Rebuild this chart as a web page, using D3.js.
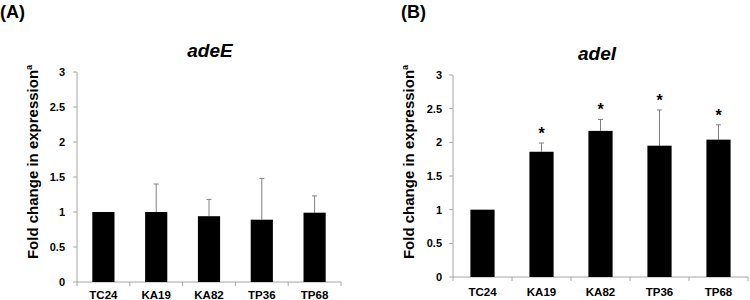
<!DOCTYPE html>
<html><head><meta charset="utf-8">
<script src="https://cdn.jsdelivr.net/npm/d3@7"></script>
<style>body{margin:0;background:#fff}svg{display:block;font-family:"Liberation Sans",Arial,sans-serif}</style>
</head><body><svg id="c" width="750" height="300"></svg>
<script>
const categories = ["TC24","KA19","KA82","TP36","TP68"];
const adeEValues = [1.00, 1.00, 0.94, 0.89, 0.99];
const adeEErrTop = [1.00, 1.40, 1.18, 1.48, 1.23];
const adeIValues = [1.00, 1.86, 2.17, 1.95, 2.04];
const adeIErrTop = [1.00, 1.99, 2.34, 2.48, 2.26];
const adeISig = [false, true, true, true, true];
const yTicks = [0, 0.5, 1, 1.5, 2, 2.5, 3];
const yTickLabels = ["0","0.5","1","1.5","2","2.5","3"];

const svg = d3.select("#c");

function panel(o){
  const g = svg.append("g");
  const x = d3.scaleBand().domain(categories).range([o.x0, o.x1]).paddingInner(o.pad).paddingOuter(o.pad/2);
  const y = d3.scaleLinear().domain([0,3]).range([o.y0, o.y3]);
  const xb = d3.scaleBand().domain(categories).range([o.x0, o.x1]);
  // y axis
  g.append("line").attr("x1",o.x0).attr("x2",o.x0).attr("y1",y(0)).attr("y2",y(3)).attr("stroke","#a6a6a6");
  g.selectAll(".yt").data(yTicks).join("line").attr("x1",o.x0-4).attr("x2",o.x0).attr("y1",d=>y(d)).attr("y2",d=>y(d)).attr("stroke","#a6a6a6");
  g.selectAll(".yl").data(yTicks).join("text").attr("x",o.lblX).attr("y",d=>y(d)+4)
    .attr("text-anchor","end").attr("font-size",11).attr("font-weight","bold").text((d,i)=>yTickLabels[i]);
  // x axis
  g.append("line").attr("x1",o.x0).attr("x2",o.x1).attr("y1",y(0)).attr("y2",y(0)).attr("stroke","#a6a6a6");
  const bounds = categories.map(c=>xb(c)).concat([o.x1]);
  g.selectAll(".xt").data(bounds).join("line").attr("x1",d=>d).attr("x2",d=>d).attr("y1",y(0)).attr("y2",y(0)+4).attr("stroke","#a6a6a6");
  g.selectAll(".xl").data(categories).join("text").attr("x",d=>xb(d)+xb.bandwidth()/2).attr("y",o.catY)
    .attr("text-anchor","middle").attr("font-size",11.5).attr("font-weight","bold").text(d=>d);
  // error bars
  const cx = d=>x(d)+x.bandwidth()/2;
  g.selectAll(".eb").data(categories).join("line").attr("x1",cx).attr("x2",cx)
    .attr("y1",(d,i)=>y(o.vals[i])).attr("y2",(d,i)=>y(o.err[i])).attr("stroke","#808080").attr("stroke-width",1);
  g.selectAll(".ec").data(categories).join("line").attr("x1",d=>cx(d)-2.5).attr("x2",d=>cx(d)+2.5)
    .attr("y1",(d,i)=>y(o.err[i])).attr("y2",(d,i)=>y(o.err[i])).attr("stroke","#808080")
    .attr("display",(d,i)=>o.err[i]>o.vals[i]?null:"none");
  // bars
  g.selectAll(".b").data(categories).join("rect").attr("x",d=>x(d)).attr("width",x.bandwidth())
    .attr("y",(d,i)=>y(o.vals[i])).attr("height",(d,i)=>y(0)-y(o.vals[i])).attr("fill","#000");
  if(o.sig){
    g.selectAll(".s").data(categories).join("text").attr("x",cx).attr("y",(d,i)=>y(o.err[i])-4)
      .attr("text-anchor","middle").attr("font-size",16).attr("font-weight","bold")
      .text((d,i)=>o.sig[i]?"*":"");
  }
  // title
  g.append("text").attr("x",o.titleX).attr("y",o.titleY).attr("text-anchor","middle")
    .attr("font-size",19).attr("font-weight","bold").attr("font-style","italic").text(o.title);
  // panel label
  g.append("text").attr("x",o.labX).attr("y",18).attr("font-size",18).attr("font-weight","bold").text(o.lab);
  // y label
  const yl = g.append("text").attr("transform",`translate(${o.ylabX},${o.ylabY}) rotate(-90)`)
    .attr("text-anchor","middle").attr("font-size",15).attr("font-weight","bold");
  yl.append("tspan").text("Fold change in expression");
  yl.append("tspan").attr("font-size",9).attr("dy",-6).text("a");
}

panel({x0:77,x1:341,y0:282,y3:72,pad:0.58,lblX:65,catY:299,vals:adeEValues,err:adeEErrTop,
  title:"adeE",titleX:210,titleY:57,lab:"(A)",labX:0,ylabX:38,ylabY:162});
panel({x0:453,x1:748,y0:277,y3:75,pad:0.59,lblX:442,catY:296,vals:adeIValues,err:adeIErrTop,sig:adeISig,
  title:"adeI",titleX:597,titleY:60,lab:"(B)",labX:401,ylabX:414,ylabY:162});
</script></body></html>
